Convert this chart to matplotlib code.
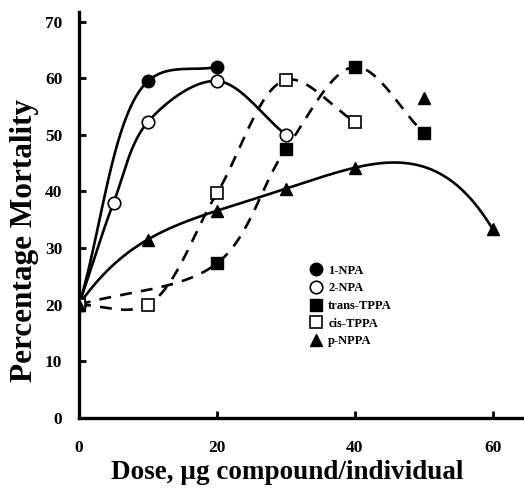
import matplotlib
matplotlib.use("Agg")
import matplotlib.pyplot as plt
from matplotlib.lines import Line2D
import numpy as np

plt.rcParams['font.family'] = ['Liberation Serif', 'DejaVu Serif']
plt.rcParams['font.weight'] = 'bold'

# dados
npa1_x = [0, 10, 20]
npa1_y = [20, 59.5, 62]
npa2_x = [0, 5, 10, 20, 30]
npa2_y = [20, 38, 52.3, 59.5, 50]
trans_x = [0, 20, 30, 40, 50]
trans_y = [20, 27.3, 47.5, 62, 50.3]
cis_x = [0, 10, 20, 30, 40]
cis_y = [20, 20, 39.7, 59.7, 52.3]
nppa_x = [0, 10, 20, 30, 40, 50, 60]
nppa_y = [20, 31.5, 36.6, 40.5, 44.2, 56.5, 33.3]
nppa_fit = [0, 2, 3, 4, 6]  # pontos que ficam na curva ajustada

xticks = [0, 20, 40, 60]
yticks = [0, 10, 20, 30, 40, 50, 60, 70]


def smooth(xs, ys, n=60, s=0.82):
    # catmull-rom centripeta
    p = np.column_stack([np.array(xs, float), np.array(ys, float) * s])
    p = np.vstack([2 * p[0] - p[1], p, 2 * p[-1] - p[-2]])
    out = []
    for i in range(len(p) - 3):
        p0, p1, p2, p3 = p[i], p[i + 1], p[i + 2], p[i + 3]
        t0 = 0.0
        t1 = t0 + np.linalg.norm(p1 - p0) ** 0.5
        t2 = t1 + np.linalg.norm(p2 - p1) ** 0.5
        t3 = t2 + np.linalg.norm(p3 - p2) ** 0.5
        t = np.linspace(t1, t2, n)[:, None]
        a1 = (t1 - t) / (t1 - t0) * p0 + (t - t0) / (t1 - t0) * p1
        a2 = (t2 - t) / (t2 - t1) * p1 + (t - t1) / (t2 - t1) * p2
        a3 = (t3 - t) / (t3 - t2) * p2 + (t - t2) / (t3 - t2) * p3
        b1 = (t2 - t) / (t2 - t0) * a1 + (t - t0) / (t2 - t0) * a2
        b2 = (t3 - t) / (t3 - t1) * a2 + (t - t1) / (t3 - t1) * a3
        c = (t2 - t) / (t2 - t1) * b1 + (t - t1) / (t2 - t1) * b2
        out.append(c)
    c = np.vstack(out)
    return c[:, 0], c[:, 1] / s


fig = plt.figure(figsize=(5.24, 4.9), dpi=100)
ax = fig.add_axes([0.1508, 0.147, 0.845, 0.8286])

lw = 1.9
dash = (0, (4.5, 3.5))

x, y = smooth(npa1_x, npa1_y)
ax.plot(x, y, color='black', lw=lw)
x, y = smooth(npa2_x, npa2_y)
ax.plot(x, y, color='black', lw=lw)
x, y = smooth(trans_x, trans_y)
ax.plot(x, y, color='black', lw=lw, linestyle=dash)
x, y = smooth(cis_x, cis_y)
ax.plot(x, y, color='black', lw=lw, linestyle=dash)

fx = np.array(nppa_x, float)[nppa_fit]
fy = np.array(nppa_y, float)[nppa_fit]
coef = np.polyfit(fx, fy, 4)
xx = np.linspace(0, 60, 200)
ax.plot(xx, np.polyval(coef, xx), color='black', lw=lw)

ms = 9
ax.plot(npa1_x, npa1_y, 'o', ms=ms, mfc='black', mec='black', zorder=5)
ax.plot(npa2_x, npa2_y, 'o', ms=ms, mfc='white', mec='black', mew=1.2, zorder=5)
ax.plot(trans_x, trans_y, 's', ms=8.5, mfc='black', mec='black', zorder=5)
ax.plot(cis_x, cis_y, 's', ms=8.5, mfc='white', mec='black', mew=1.2, zorder=5)
ax.plot(nppa_x, nppa_y, '^', ms=8.5, mfc='black', mec='black', zorder=5)

ax.set_xlim(0, 64.2)
ax.set_ylim(0, 71.7)
ax.set_xticks(xticks)
ax.set_yticks(yticks)
ax.spines['top'].set_visible(False)
ax.spines['right'].set_visible(False)
ax.spines['left'].set_linewidth(2.4)
ax.spines['bottom'].set_linewidth(2.4)
ax.tick_params(direction='in', length=5, width=2, labelsize=12.5)
ax.tick_params(axis='x', pad=16)
ax.tick_params(axis='y', pad=12)

ax.set_xlabel('Dose, \u00b5g compound/individual', fontsize=19.5, fontweight='bold')
ax.set_ylabel('Percentage Mortality', fontsize=22.5, fontweight='bold')
ax.xaxis.set_label_coords(0.47, -0.104)
ax.yaxis.set_label_coords(-0.09, 0.438)

handles = [
    Line2D([], [], marker='o', ls='none', ms=ms, mfc='black', mec='black'),
    Line2D([], [], marker='o', ls='none', ms=ms, mfc='white', mec='black', mew=1.2),
    Line2D([], [], marker='s', ls='none', ms=8.5, mfc='black', mec='black'),
    Line2D([], [], marker='s', ls='none', ms=8.5, mfc='white', mec='black', mew=1.2),
    Line2D([], [], marker='^', ls='none', ms=8.5, mfc='black', mec='black'),
]
labels = ['1-NPA', '2-NPA', 'trans-TPPA', 'cis-TPPA', 'p-NPPA']
ax.legend(handles, labels, loc='upper left', bbox_to_anchor=(0.495, 0.405),
          frameon=False, fontsize=9, handlelength=1.0, handletextpad=0.5,
          labelspacing=0.45)

fig.savefig('out.png', dpi=100)
